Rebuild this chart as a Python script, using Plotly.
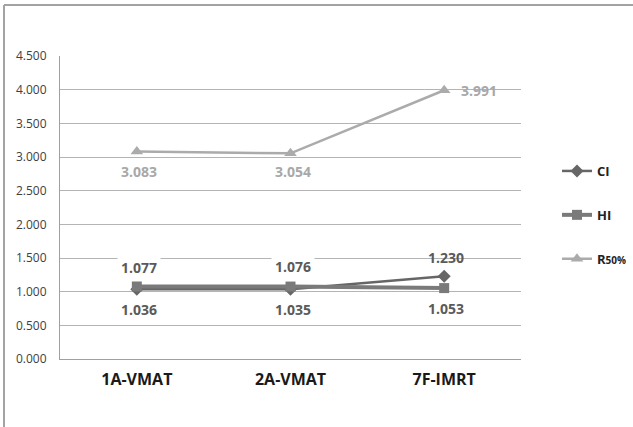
import plotly.graph_objects as go

categories = ["1A-VMAT", "2A-VMAT", "7F-IMRT"]
ci_values = [1.036, 1.035, 1.230]
hi_values = [1.077, 1.076, 1.053]
r50_values = [3.083, 3.054, 3.991]
y_ticks = [0, 0.5, 1.0, 1.5, 2.0, 2.5, 3.0, 3.5, 4.0, 4.5]

W, H = 633, 427
L, R, T, B = 60, 112, 56, 68
FONT = "Open Sans, Noto Sans, sans-serif"

fig = go.Figure()

fig.add_trace(go.Scatter(
    x=categories, y=ci_values, name="CI", mode="lines+markers",
    line=dict(color="#666666", width=2.5),
    marker=dict(symbol="diamond", size=10, color="#666666"),
    legendgroup="a"))
fig.add_trace(go.Scatter(
    x=categories, y=hi_values, name="HI", mode="lines+markers",
    line=dict(color="#7a7a7a", width=4),
    marker=dict(symbol="square", size=10, color="#7a7a7a"),
    legendgroup="b"))
fig.add_trace(go.Scatter(
    x=categories, y=r50_values, name="R<span style='font-size:10px'>50%</span>",
    mode="lines+markers",
    line=dict(color="#ababab", width=2.5),
    marker=dict(symbol="triangle-up", size=11, color="#ababab"),
    legendgroup="c"))

dark = "#5a5a5a"
light = "#a8a8a8"
lab_font = dict(family=FONT, size=14, color=dark, weight="bold")

# CI labels: below, below, above
ci_shift = [-20, -20, 19]
for c, v, s in zip(categories, ci_values, ci_shift):
    fig.add_annotation(x=c, y=v, text=f"{v:.3f}", showarrow=False, yshift=s,
                       font=dict(lab_font), xshift=2)
# HI labels: above, above, below
hi_shift = [19, 20, -20]
hi_bg = ["white", "white", "rgba(0,0,0,0)"]
for c, v, s, bg in zip(categories, hi_values, hi_shift, hi_bg):
    fig.add_annotation(x=c, y=v, text=f"{v:.3f}", showarrow=False, yshift=s,
                       font=dict(lab_font), bgcolor=bg, borderpad=3, xshift=2)
# R50 labels
r_xshift = [2, 2, 35]
r_yshift = [-20, -18, 0]
for c, v, xs, ys in zip(categories, r50_values, r_xshift, r_yshift):
    fig.add_annotation(x=c, y=v, text=f"{v:.3f}", showarrow=False, xshift=xs, yshift=ys,
                       font=dict(family=FONT, size=14, color=light, weight="bold"))

pw = W - L - R
ph = H - T - B
def px(xp):
    return (xp - L) / pw
def py(yp):
    return (H - B - yp) / ph

# outer border (left and top visible)
fig.add_shape(type="line", xref="paper", yref="paper", x0=px(4), x1=px(640), y0=py(5), y1=py(5),
              line=dict(color="#a3a3a3", width=2))
fig.add_shape(type="line", xref="paper", yref="paper", x0=px(4), x1=px(4), y0=py(5), y1=py(440),
              line=dict(color="#a3a3a3", width=2))

fig.update_layout(
    width=W, height=H,
    margin=dict(l=L, r=R, t=T, b=B, autoexpand=False),
    paper_bgcolor="white", plot_bgcolor="white",
    showlegend=True,
    legend=dict(x=px(557), y=py(156), xanchor="left", yanchor="top",
                font=dict(family=FONT, size=13, color="#222222", weight="bold"),
                tracegroupgap=24, itemwidth=30, bgcolor="rgba(0,0,0,0)"),
    font=dict(family=FONT),
)
fig.update_xaxes(type="category", range=[-0.5, 2.5], showgrid=False,
                 showline=True, linecolor="#a0a0a0", linewidth=1, ticks="",
                 tickfont=dict(family=FONT, size=16, color="#1a1a1a", weight="bold"),
                 ticklabelstandoff=6, fixedrange=True)
fig.update_yaxes(range=[0, 4.5], tickvals=y_ticks, tickformat=".3f",
                 showgrid=True, gridcolor="#b4b4b4", gridwidth=1,
                 showline=True, linecolor="#a0a0a0", linewidth=1, zeroline=False,
                 tickfont=dict(family=FONT, size=12, color="#404040"),
                 ticklabelstandoff=10, fixedrange=True)

fig.write_html("out.html", config={"displayModeBar": False},
               post_script="document.body.style.margin='0';document.body.style.overflow='hidden';")
